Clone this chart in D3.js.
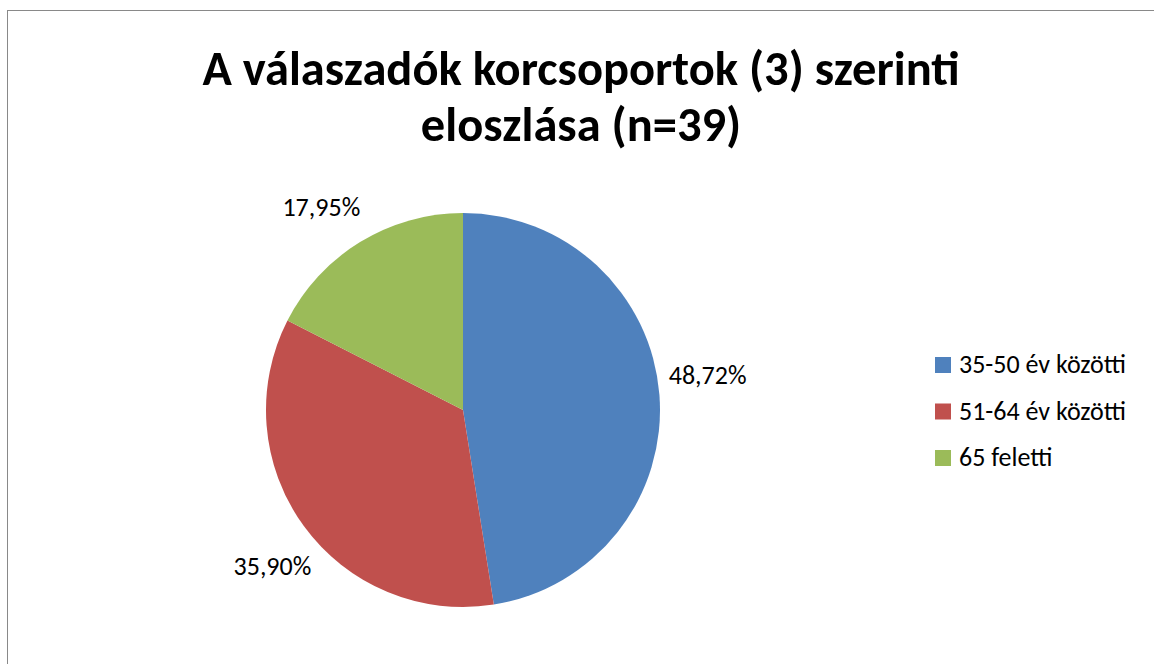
<!DOCTYPE html>
<html>
<head>
<meta charset="utf-8">
<script src="https://cdn.jsdelivr.net/npm/d3@7"></script>
<style>
    body { margin: 0; background: #fff; }
    svg text { font-family: Carlito, Calibri, "Open Sans", sans-serif; fill: #000; }
</style>
</head>
<body>
<div id="chart"></div>
<script>
// Chart data
const categories = ['35-50 év közötti', '51-64 év közötti', '65 feletti'];
const shares = [48.72, 35.90, 17.95];
const sliceLabels = ['48,72%', '35,90%', '17,95%'];
const colors = ['#4F81BD', '#C0504D', '#9BBB59'];
const titleLines = ['A válaszadók korcsoportok (3) szerinti', 'eloszlása (n=39)'];

const width = 1154;
const height = 664;

const svg = d3.select('#chart')
    .append('svg')
    .attr('width', width)
    .attr('height', height);

// Chart area border (runs off the right and bottom edges)
svg.append('rect')
    .attr('x', 7.5)
    .attr('y', 10.5)
    .attr('width', 1170)
    .attr('height', 700)
    .attr('fill', '#fff')
    .attr('stroke', '#898989')
    .attr('stroke-width', 1);

// Title
const title = svg.append('g');
titleLines.forEach((line, i) => {
    title.append('text')
        .attr('x', 581)
        .attr('y', 85 + i * 56)
        .attr('text-anchor', 'middle')
        .style('font-size', '48.5px')
        .style('font-weight', 'bold')
        .text(line);
});

// Pie
const cx = 463, cy = 410, radius = 197;
const data = categories.map((c, i) => ({ category: c, value: shares[i], label: sliceLabels[i], color: colors[i] }));

const pie = d3.pie()
    .sort(null)
    .value(d => d.value);

const arc = d3.arc()
    .innerRadius(0)
    .outerRadius(radius);

const g = svg.append('g')
    .attr('transform', `translate(${cx},${cy})`);

const arcs = pie(data);

g.selectAll('path')
    .data(arcs)
    .enter()
    .append('path')
    .attr('d', arc)
    .attr('fill', d => d.data.color);

// labels sit outside the slice, a bit counter-clockwise of the mid angle (like Excel's best fit)
const labelRadius = 247;
const labelShift = -3.5 * Math.PI / 180;

g.selectAll('.slice-label')
    .data(arcs)
    .enter()
    .append('text')
    .attr('class', 'slice-label')
    .attr('transform', d => `translate(${d3.pointRadial((d.startAngle + d.endAngle) / 2 + labelShift, labelRadius)})`)
    .attr('text-anchor', 'middle')
    .attr('dy', '0.32em')
    .style('font-size', '26px')
    .text(d => d.data.label);

// Legend
const legend = svg.append('g')
    .attr('transform', 'translate(935,357)');

const items = legend.selectAll('g')
    .data(data)
    .enter()
    .append('g')
    .attr('transform', (d, i) => `translate(0,${i * 46.5})`);

items.append('rect')
    .attr('width', 16)
    .attr('height', 16)
    .attr('fill', d => d.color);

items.append('text')
    .attr('x', 24)
    .attr('y', 16)
    .style('font-size', '26px')
    .text(d => d.category);
</script>
</body>
</html>
